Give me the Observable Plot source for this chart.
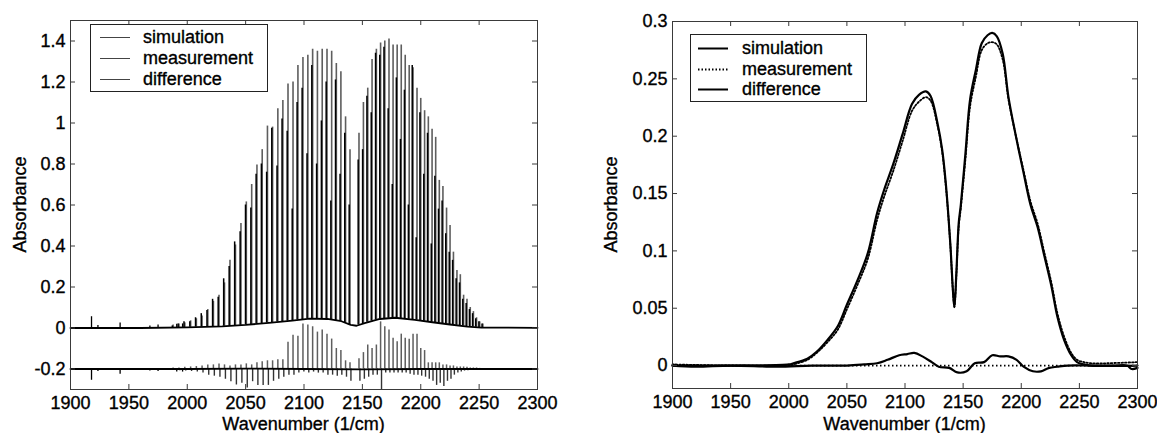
<!DOCTYPE html>
<html><head><meta charset="utf-8">
<script src="https://cdn.jsdelivr.net/npm/d3@7"></script>
<script src="https://cdn.jsdelivr.net/npm/@observablehq/plot@0.6"></script>
<style>
html,body{margin:0;padding:0;background:#fff;}
#wrap{display:flex;width:1157px;height:433px;overflow:hidden;}
svg{display:block;}
svg text{stroke:#000;stroke-width:0.35px;}
</style></head><body><div id="wrap"></div>
<script>
// ===== Left panel: high-resolution CO line spectrum =====
// line positions (cm^-1), P(35)..P(1), R(0)..R(33)
const lineWn = [1987.9, 1992.9, 1997.9, 2002.9, 2007.8, 2012.7, 2017.6, 2022.4, 2027.2, 2031.9, 2036.6, 2041.3, 2046.0, 2050.6, 2055.2, 2059.7, 2064.2, 2068.7, 2073.1, 2077.6, 2081.9, 2086.3, 2090.6, 2094.8, 2099.1, 2103.3, 2107.4, 2111.5, 2115.6, 2119.7, 2123.7, 2127.7, 2131.6, 2135.6, 2139.4,
  2147.1, 2150.9, 2154.6, 2158.3, 2162.0, 2165.6, 2169.2, 2172.8, 2176.3, 2179.8, 2183.3, 2186.7, 2190.1, 2193.4, 2196.8, 2200.0, 2203.3, 2206.5, 2209.7, 2212.8, 2215.9, 2219.0, 2222.1, 2225.1, 2228.0, 2231.0, 2233.9, 2236.7, 2239.6, 2242.4, 2245.1, 2247.8, 2250.5, 2253.2];
const lineSim = [0.015, 0.02, 0.025, 0.035, 0.045, 0.058, 0.09, 0.13, 0.16, 0.22, 0.33, 0.405, 0.51, 0.615, 0.70, 0.795, 0.87, 0.985, 0.98, 1.07, 1.11, 1.19, 1.20, 1.28, 1.32, 1.33, 1.36, 1.35, 1.36, 1.36, 1.35, 1.29, 1.25, 1.03, 0.87,
  0.95, 1.10, 1.17, 1.31, 1.36, 1.39, 1.40, 1.41, 1.38, 1.38, 1.38, 1.33, 1.28, 1.27, 1.17, 1.12, 1.06, 1.03, 0.97, 0.93, 0.72, 0.69, 0.585, 0.50, 0.37, 0.28, 0.26, 0.16, 0.14, 0.10, 0.08, 0.05, 0.03, 0.02];
const lineMeas = [0.01, 0.02, 0.03, 0.03, 0.05, 0.07, 0.085, 0.14, 0.15, 0.24, 0.30, 0.42, 0.47, 0.60, 0.585, 0.75, 0.80, 0.76, 0.975, 0.79, 1.02, 0.96, 0.58, 1.10, 1.17, 0.85, 1.28, 0.80, 1.01, 1.20, 0.62, 1.21, 0.75, 0.95, 0.60,
  0.82, 0.87, 1.13, 1.05, 1.34, 1.33, 1.37, 1.07, 0.70, 1.22, 0.92, 1.16, 0.60, 1.28, 0.44, 1.05, 0.75, 0.95, 0.41, 0.74, 0.58, 0.62, 0.46, 0.37, 0.33, 0.24, 0.22, 0.14, 0.12, 0.09, 0.07, 0.045, 0.03, 0.02];
const lineDiffPos = [0.005, 0.005, 0.008, 0.01, 0.012, 0.015, 0.02, 0.02, 0.025, 0.02, 0.015, 0.02, 0.02, 0.025, 0.02, 0.03, 0.035, 0.04, 0.04, 0.045, 0.045, 0.13, 0.165, 0.16, 0.22, 0.215, 0.206, 0.18, 0.19, 0.17, 0.146, 0.10, 0.09, 0.04, 0.03,
  0.05, 0.08, 0.117, 0.10, 0.117, 0.23, 0.206, 0.19, 0.15, 0.133, 0.17, 0.15, 0.145, 0.17, 0.17, 0.10, 0.09, 0.03, 0.03, 0.03, 0.03, 0.02, 0.02, 0.015, 0.015, 0.01, 0.01, 0.01, 0.008, 0.005, 0.005, 0.005, 0.003, 0.003];
const lineDiffNeg = [-0.005, -0.008, -0.01, -0.012, -0.015, -0.02, -0.03, -0.035, -0.04, -0.05, -0.062, -0.078, -0.07, -0.093, -0.062, -0.08, -0.08, -0.08, -0.06, -0.05, -0.04, -0.03, -0.03, -0.02, -0.015, -0.02, -0.015, -0.02, -0.02, -0.03, -0.03, -0.035, -0.03, -0.04, -0.06,
  -0.06, -0.05, -0.04, -0.03, -0.03, -0.10, -0.02, -0.02, -0.02, -0.02, -0.02, -0.02, -0.025, -0.03, -0.03, -0.035, -0.04, -0.05, -0.06, -0.08, -0.07, -0.085, -0.06, -0.05, -0.03, -0.02, -0.015, -0.01, -0.008, -0.005, -0.005, -0.004, -0.003, -0.002];
// weak extra lines seen only in the measurement
const extraWn = [1918.0, 1923.5, 1942.5, 1968.0, 1975.0, 1991.0, 1996.0];
const extraMeas = [0.055, 0.012, 0.025, 0.01, 0.015, 0.018, 0.02];
const extraDiff = [-0.055, -0.012, -0.025, -0.01, -0.012, -0.015, -0.015];
// broad continuum under the lines
const contWn = [1900, 1960, 2000, 2030, 2050, 2070, 2090, 2105, 2120, 2132, 2140, 2145, 2152, 2165, 2178, 2195, 2210, 2225, 2240, 2252, 2300];
const contVal = [0.0, 0.0, 0.003, 0.008, 0.015, 0.025, 0.036, 0.046, 0.044, 0.033, 0.015, 0.011, 0.024, 0.044, 0.05, 0.04, 0.028, 0.017, 0.007, 0.002, 0.001];
// difference trace baseline
const diffBaseWn = [1900, 1950, 2000, 2050, 2100, 2150, 2200, 2250, 2300];
const diffBaseVal = [0.0, 0.0, 0.0, 0.002, 0.0, -0.002, 0.0, 0.0, 0.0];
const diffOffset = -0.2;     // difference drawn shifted down
const measShift = -0.7;      // measured line centres slightly shifted
const xTicks = [1900, 1950, 2000, 2050, 2100, 2150, 2200, 2250, 2300];
const yTicksLeft = [-0.2, 0, 0.2, 0.4, 0.6, 0.8, 1, 1.2, 1.4];

// ===== Right panel: low-resolution band =====
const bandWn = [1900, 1950, 2000, 2004, 2016, 2024, 2033, 2042, 2050, 2059, 2068, 2076, 2082, 2090, 2098, 2106, 2112, 2118, 2122, 2128, 2132, 2135, 2137, 2139, 2141.4, 2142.5, 2144.2, 2146.2, 2148, 2152, 2156, 2161, 2166, 2171, 2175, 2179, 2184, 2189, 2195, 2202, 2208, 2214, 2220, 2226, 2231, 2237, 2243, 2248, 2254, 2260, 2300];
const bandSim = [0, 0, 0.001, 0.002, 0.006, 0.012, 0.022, 0.034, 0.053, 0.074, 0.098, 0.133, 0.153, 0.176, 0.202, 0.228, 0.236, 0.239, 0.235, 0.211, 0.188, 0.160, 0.135, 0.106, 0.063, 0.051, 0.081, 0.124, 0.140, 0.185, 0.232, 0.258, 0.281, 0.288, 0.290, 0.287, 0.272, 0.234, 0.202, 0.168, 0.140, 0.121, 0.095, 0.069, 0.043, 0.022, 0.009, 0.003, 0.001, 0, 0];
const bandMeas = [0.001, 0, 0, 0.001, 0.005, 0.011, 0.020, 0.031, 0.049, 0.070, 0.093, 0.127, 0.147, 0.170, 0.196, 0.222, 0.230, 0.234, 0.231, 0.209, 0.186, 0.158, 0.134, 0.105, 0.062, 0.051, 0.079, 0.121, 0.137, 0.180, 0.226, 0.252, 0.275, 0.281, 0.282, 0.280, 0.267, 0.232, 0.202, 0.170, 0.143, 0.124, 0.098, 0.072, 0.046, 0.025, 0.011, 0.005, 0.003, 0.002, 0.003];
const bandDiffWn = [1900, 1920, 1950, 1990, 2020, 2050, 2065, 2076, 2085, 2095, 2102, 2108, 2115, 2123, 2129, 2138, 2145, 2153, 2160, 2168, 2175, 2182, 2189, 2196, 2202, 2210, 2217, 2224, 2231, 2240, 2260, 2280, 2291, 2295, 2300];
const bandDiffVal = [0.0, -0.001, 0.0, -0.001, 0.0, 0.0, 0.001, 0.002, 0.005, 0.009, 0.010, 0.011, 0.008, 0.003, -0.001, -0.002, -0.006, -0.005, 0.002, 0.003, 0.009, 0.008, 0.008, 0.005, -0.001, -0.005, -0.005, -0.002, -0.001, 0, 0, 0, 0, -0.003, -0.002];
const yTicksRight = [0, 0.05, 0.1, 0.15, 0.2, 0.25, 0.3];

const legendLabels = ["simulation", "measurement", "difference"];
const xLabel = "Wavenumber (1/cm)";
const yLabel = "Absorbance";

// ===== helpers =====
const FONT = "'Liberation Sans', Arial, Helvetica, sans-serif";
const FS = 18;
const fmt = d => String(d);
function contAt(w) {
  const i = d3.bisectRight(contWn, w);
  if (i <= 0) return contVal[0];
  if (i >= contWn.length) return contVal[contVal.length - 1];
  const t = (w - contWn[i - 1]) / (contWn[i] - contWn[i - 1]);
  return contVal[i - 1] + t * (contVal[i] - contVal[i - 1]);
}

function panel({width, marginLeft, marginRight, marginTop, marginBottom, yDomain, yTicks, marks}) {
  const height = 433;
  const iw = width - marginLeft - marginRight, ih = height - marginTop - marginBottom;
  const fc = "#3a3a3a";
  return Plot.plot({
    width, height, marginLeft, marginRight, marginTop, marginBottom,
    style: {fontFamily: FONT, fontSize: FS + "px", color: "#000", background: "#fff", overflow: "hidden"},
    x: {domain: [1900, 2300], label: null},
    y: {domain: yDomain, label: null},
    marks: [
      ...marks,
      Plot.frame({stroke: fc, strokeWidth: 1}),
      Plot.ruleX(xTicks, {x: d => d, insetTop: ih - 5, stroke: fc}),
      Plot.ruleX(xTicks, {x: d => d, insetBottom: ih - 5, stroke: fc}),
      Plot.ruleY(yTicks, {y: d => d, insetRight: iw - 5, stroke: fc}),
      Plot.ruleY(yTicks, {y: d => d, insetLeft: iw - 5, stroke: fc}),
      Plot.axisX(xTicks, {tickSize: 0, tickPadding: 6.5, tickFormat: fmt, label: null, fontSize: FS}),
      Plot.axisY(yTicks, {tickSize: 0, tickPadding: 5, tickFormat: fmt, label: null, fontSize: FS})
    ]
  });
}

function addLabels(svg, xMid, yMid, yLabX) {
  const s = d3.select(svg);
  s.append("text").attr("x", xMid).attr("y", 429.5).attr("text-anchor", "middle")
    .attr("font-family", FONT).attr("font-size", FS).attr("fill", "#000").text(xLabel);
  s.append("text").attr("transform", `translate(${yLabX},${yMid}) rotate(-90)`).attr("text-anchor", "middle")
    .attr("font-family", FONT).attr("font-size", FS).attr("fill", "#000").text(yLabel);
}

function addLegend(svg, box, rows, styles) {
  const g = d3.select(svg).append("g");
  g.append("rect").attr("x", box.x + 0.5).attr("y", box.y + 0.5).attr("width", box.w).attr("height", box.h)
    .attr("fill", "#fff").attr("stroke", "#222").attr("stroke-width", 1);
  legendLabels.forEach((lab, i) => {
    const cy = rows[i];
    g.append("line").attr("x1", box.lx1).attr("x2", box.lx2).attr("y1", cy + 0.5).attr("y2", cy + 0.5)
      .attr("stroke", styles[i].stroke).attr("stroke-width", styles[i].width)
      .attr("stroke-dasharray", styles[i].dash || null);
    g.append("text").attr("x", box.tx).attr("y", cy + 6.4).attr("text-anchor", "start")
      .attr("font-family", FONT).attr("font-size", FS).attr("fill", "#000").text(lab);
  });
}

// ===== build left panel =====
const lines = lineWn.map((w, i) => ({w, base: contAt(w), sim: lineSim[i], meas: lineMeas[i], dp: lineDiffPos[i], dn: lineDiffNeg[i]}));
const extras = extraWn.map((w, i) => ({w, base: contAt(w), meas: extraMeas[i], diff: extraDiff[i]}));
const cont = contWn.map((w, i) => ({w, v: contVal[i]}));
const diffBase = diffBaseWn.map((w, i) => ({w, v: diffBaseVal[i]}));

const left = panel({
  width: 578, marginLeft: 70, marginRight: 41, marginTop: 20, marginBottom: 44,
  yDomain: [-0.3, 1.5], yTicks: yTicksLeft,
  marks: [
    Plot.ruleX(lines, {x: "w", y1: "base", y2: "sim", stroke: "#5e5e5e", strokeWidth: 1.6}),
    Plot.ruleX(lines, {x: d => d.w + measShift, y1: "base", y2: "meas", stroke: "#000", strokeWidth: 1.5}),
    Plot.ruleX(extras, {x: "w", y1: "base", y2: "meas", stroke: "#000", strokeWidth: 1.3}),
    Plot.line(cont, {x: "w", y: "v", stroke: "#000", strokeWidth: 1.8}),
    Plot.ruleX(lines, {x: "w", y1: diffOffset, y2: d => diffOffset + d.dp, stroke: "#5e5e5e", strokeWidth: 1.5}),
    Plot.ruleX(lines, {x: d => d.w + 0.8, y1: diffOffset, y2: d => diffOffset + d.dn, stroke: "#333", strokeWidth: 1.4}),
    Plot.ruleX(extras, {x: "w", y1: diffOffset, y2: d => diffOffset + d.diff, stroke: "#000", strokeWidth: 1.3}),
    Plot.line(diffBase, {x: "w", y: d => diffOffset + d.v, stroke: "#000", strokeWidth: 1.8})
  ]
});
addLabels(left, 303.5, 204.5, 26);
addLegend(left, {x: 90, y: 24, w: 177, h: 67, lx1: 100, lx2: 130, tx: 143}, [37, 58, 79],
  [{stroke: "#444", width: 1}, {stroke: "#444", width: 1}, {stroke: "#444", width: 1}]);

// ===== build right panel =====
const band = bandWn.map((w, i) => ({w, sim: bandSim[i], meas: bandMeas[i]}));
const bandDiff = bandDiffWn.map((w, i) => ({w, v: bandDiffVal[i]}));
const right = panel({
  width: 579, marginLeft: 94, marginRight: 20, marginTop: 21, marginBottom: 45,
  yDomain: [-0.02, 0.3], yTicks: yTicksRight,
  marks: [
    Plot.ruleY([0], {stroke: "#000", strokeWidth: 1.8, strokeDasharray: "1.5,2.5"}),
    Plot.line(band, {x: "w", y: "sim", stroke: "#000", strokeWidth: 2.2, curve: "catmull-rom"}),
    Plot.line(band, {x: "w", y: "meas", stroke: "#000", strokeWidth: 1.8, strokeDasharray: "1.5,2", curve: "catmull-rom"}),
    Plot.line(bandDiff, {x: "w", y: "v", stroke: "#000", strokeWidth: 2.2, curve: "catmull-rom"})
  ]
});
addLabels(right, 326.5, 204.5, 38.5);
addLegend(right, {x: 112, y: 34, w: 176, h: 67, lx1: 120, lx2: 150, tx: 164}, [48, 69, 89],
  [{stroke: "#000", width: 2}, {stroke: "#000", width: 2, dash: "1.5,2"}, {stroke: "#000", width: 2}]);

document.getElementById("wrap").append(left, right);
</script>
</body></html>
